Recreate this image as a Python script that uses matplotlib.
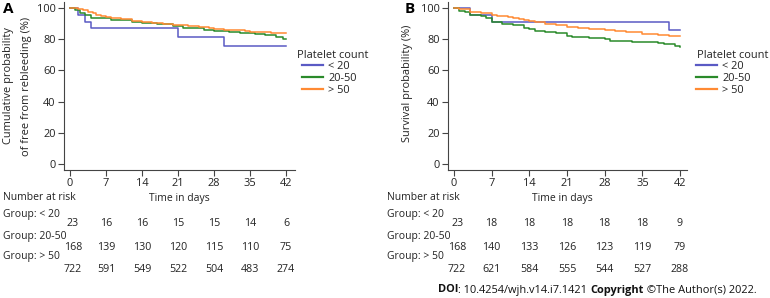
import matplotlib
matplotlib.use("Agg")
import matplotlib.pyplot as plt
from matplotlib.lines import Line2D

# ---------------- data ----------------
groups = ["< 20", "20-50", "> 50"]
group_labels = ["Group: < 20", "Group: 20-50", "Group: > 50"]
risk_times = [0, 7, 14, 21, 28, 35, 42]

# Panel A: free from rebleeding
a_t_lt20 = [0, 1.5, 3, 4, 21, 30, 42]
a_s_lt20 = [100, 95.7, 91.3, 87.0, 81.2, 75.8, 75.8]
a_t_mid = [0, 1, 2, 3, 4, 7, 8, 10, 12, 14, 17, 20, 22, 26, 28, 31, 33, 36, 38, 40, 41.5, 42]
a_s_mid = [100, 98.8, 97.0, 95.2, 93.6, 93.4, 92.5, 92.0, 91.3, 90.6, 90.0, 88.5, 87.0, 86.0, 85.2,
           84.6, 84.0, 83.4, 82.8, 81.4, 80.3, 80.3]
a_t_gt50 = [0, 1.5, 2.5, 3.5, 4.5, 5, 6, 7, 8, 10, 12, 14, 16, 18, 20, 21, 23, 25, 27, 28, 30, 32, 34,
            35, 37, 39, 42]
a_s_gt50 = [100, 99.5, 98.5, 97.5, 96.5, 95.7, 95.0, 94.2, 93.7, 92.8, 91.8, 90.8, 90.3, 89.7, 89.2,
            88.9, 88.2, 87.6, 87.0, 86.7, 86.1, 85.6, 85.0, 84.6, 84.3, 84.1, 84.0]
a_risk = [[23, 16, 16, 15, 15, 14, 6],
          [168, 139, 130, 120, 115, 110, 75],
          [722, 591, 549, 522, 504, 483, 274]]

# Panel B: survival
b_t_lt20 = [0, 3, 7, 40, 42]
b_s_lt20 = [100, 95.65, 90.9, 85.6, 85.6]
b_t_mid = [0, 1, 2, 3, 5, 6, 7, 9, 11, 13, 14, 15, 17, 19, 21, 22, 25, 28, 29, 33, 38, 39, 41, 42]
b_s_mid = [100, 98.3, 97.2, 95.7, 94.7, 93.6, 90.8, 90.0, 88.9, 87.2, 86.3, 85.5, 84.6, 84.0, 82.3,
           81.4, 81.0, 80.1, 79.0, 78.2, 77.8, 76.7, 75.4, 75.2]
b_t_gt50 = [0, 1, 3, 5, 7, 8, 10, 11, 12, 13, 14, 15, 17, 19, 21, 23, 25, 28, 30, 32, 35, 38, 40, 42]
b_s_gt50 = [100, 99.0, 97.6, 96.8, 95.7, 95.0, 94.2, 93.6, 93.2, 92.3, 91.5, 90.7, 90.0, 88.8, 87.8,
            87.0, 86.5, 85.7, 85.0, 84.4, 83.5, 82.7, 82.3, 81.8]
b_risk = [[23, 18, 18, 18, 18, 18, 9],
          [168, 140, 133, 126, 123, 119, 79],
          [722, 621, 584, 555, 544, 527, 288]]

colors = ["#5a5ac4", "#2a8a2a", "#ff8a33"]
spine_col = "#444444"
txt_col = "#222222"

W, H = 770, 298
plt.rcParams['font.family'] = ['Open Sans', 'DejaVu Sans']
fig = plt.figure(figsize=(W / 100, H / 100), dpi=100)
FS = 7.5      # table / label text
FT = 7.9      # tick labels
FL = 7.9      # legend


def fx(px):
    return px / W


def fy(py):
    return 1 - py / H


def make_axes(l, r, t, b):
    return fig.add_axes([fx(l), fy(b), fx(r) - fx(l), (b - t) / H])


def style(ax, xlim):
    ax.set_xlim(*xlim)
    ax.set_ylim(-3.8, 103.8)
    ax.set_xticks(risk_times)
    ax.set_yticks([0, 20, 40, 60, 80, 100])
    for s in ["top", "right"]:
        ax.spines[s].set_visible(False)
    for s in ["left", "bottom"]:
        ax.spines[s].set_color(spine_col)
        ax.spines[s].set_linewidth(0.8)
    ax.tick_params(direction="out", length=4, width=0.8, color=spine_col,
                   labelsize=FT, labelcolor=txt_col, pad=2)
    ax.patch.set_alpha(0)


axA = make_axes(64, 295, 2, 170)
axB = make_axes(448, 687, 2, 170)
style(axA, (-1.17, 43.75))
style(axB, (-1.11, 43.3))

for ax, curves in [(axA, [(a_t_lt20, a_s_lt20), (a_t_mid, a_s_mid), (a_t_gt50, a_s_gt50)]),
                   (axB, [(b_t_lt20, b_s_lt20), (b_t_mid, b_s_mid), (b_t_gt50, b_s_gt50)])]:
    for (t, s), c in zip(curves, colors):
        ax.step(t, s, where="post", color=c, lw=1.1)

# panel letters
fig.text(fx(8), fy(9), "A", fontsize=11, fontweight="bold", ha="center", va="center")
fig.text(fx(410), fy(9), "B", fontsize=11, fontweight="bold", ha="center", va="center")

# y labels
fig.text(fx(9), fy(86), "Cumulative probability", rotation=90, fontsize=FS + 0.4,
         ha="center", va="center", color=txt_col)
fig.text(fx(27), fy(86), "of free from rebleeding (%)", rotation=90, fontsize=FS + 0.4,
         ha="center", va="center", color=txt_col)
fig.text(fx(408), fy(83), "Survival probability (%)", rotation=90, fontsize=FS + 0.4,
         ha="center", va="center", color=txt_col)

# legends
handles = [Line2D([], [], color=c, lw=1.6) for c in colors]
for ax, tx, lx in [(axA, 297, 302), (axB, 697, 696)]:
    fig.text(fx(tx), fy(55), "Platelet count", fontsize=FL, ha="left", va="center",
             color=txt_col)
    leg = ax.legend(handles, groups, frameon=False, loc="upper left",
                    bbox_to_anchor=(fx(lx), fy(61)), bbox_transform=fig.transFigure,
                    fontsize=FL, handlelength=1.9, handletextpad=0.5,
                    labelspacing=0.1, borderpad=0.0, borderaxespad=0.0)
    for t in leg.get_texts():
        t.set_color(txt_col)

# risk table
row_group_y = [215, 236, 257]
row_num_y = [224, 247, 270]
for ax, xc, risk, left in [(axA, 179, a_risk, 3), (axB, 562, b_risk, 387)]:
    fig.text(fx(xc), fy(198), "Time in days", fontsize=FS, ha="center", va="center",
             color=txt_col)
    fig.text(fx(left), fy(198), "Number at risk", fontsize=FS, ha="left", va="center",
             color=txt_col)
    for gl, gy in zip(group_labels, row_group_y):
        fig.text(fx(left), fy(gy), gl, fontsize=FS, ha="left", va="center", color=txt_col)
    trans = matplotlib.transforms.blended_transform_factory(ax.transData, fig.transFigure)
    for vals, ny in zip(risk, row_num_y):
        for t, v in zip(risk_times, vals):
            xoff = 3 if t == 0 else 0
            ax.text(t + xoff / 5.2, fy(ny), str(v), transform=trans, fontsize=FS + 0.2,
                    ha="center", va="center", color=txt_col, clip_on=False)

# DOI line
fig.canvas.draw()
renderer = fig.canvas.get_renderer()
parts = [("DOI", "bold"), (": 10.4254/wjh.v14.i7.1421 ", "normal"), ("Copyright", "bold"),
         (" \u00a9The Author(s) 2022.", "normal")]
xcur = 438
for s, wgt in parts:
    t = fig.text(fx(xcur), fy(290), s, fontsize=7.9, fontweight=wgt, ha="left", va="center",
                 color="#111111")
    bb = t.get_window_extent(renderer)
    xcur += bb.width

fig.savefig("out.png", dpi=100)
